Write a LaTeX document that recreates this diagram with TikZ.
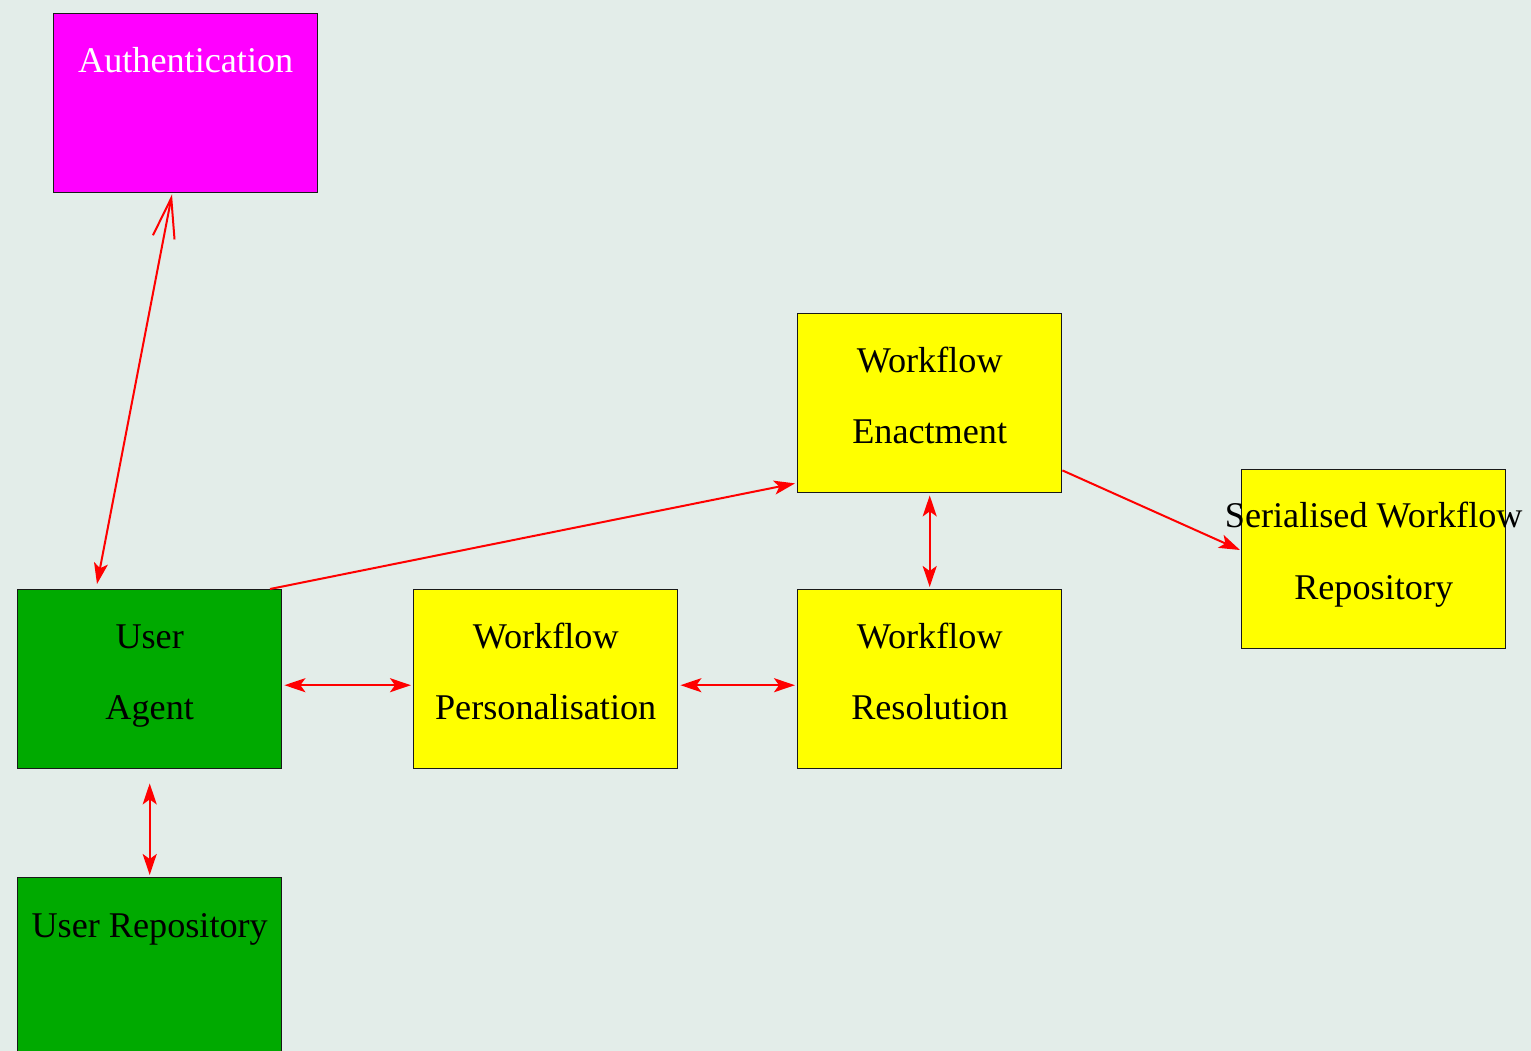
\documentclass[tikz,border=0pt]{standalone}
\usepackage{fontspec}
\setmainfont{Liberation Serif}
\usetikzlibrary{arrows.meta,calc}
\definecolor{bgcol}{RGB}{227,237,233}
\definecolor{magbox}{RGB}{255,0,255}
\definecolor{greenbox}{RGB}{0,170,0}
\definecolor{yellowbox}{RGB}{255,255,0}
\begin{document}
\begin{tikzpicture}[x=1pt,y=-1pt,
  box/.style={draw=black!90,line width=1.4pt,minimum width=264pt,minimum height=179pt,inner sep=0pt,anchor=north west},
  lbl/.style={anchor=base,inner sep=0pt,font=\fontsize{36.2}{43}\selectfont},
  conn/.style={draw=red,line width=2pt},
  hd/.tip={Stealth[length=21pt,width=14pt,inset=5pt]},
  barb/.tip={Straight Barb[length=40pt,width=22pt]}]
\useasboundingbox (0,0) rectangle (1531,1051);
\fill[bgcol] (0,0) rectangle (1531,1051);
\begin{scope}
\clip (0,0) rectangle (1531,1051);
\node[box,fill=magbox] (auth) at (53,13) {};
\node[box,fill=yellowbox] (wfe) at (797,313) {};
\node[box,fill=yellowbox] (swr) at (1241,469) {};
\node[box,fill=greenbox] (ua) at (17,589) {};
\node[box,fill=yellowbox] (wfp) at (413,589) {};
\node[box,fill=yellowbox] (wfr) at (797,589) {};
\node[box,fill=greenbox] (ur) at (17,877) {};
\end{scope}
% labels
\node[lbl,text=white] (authL) at ($(auth.north)+(0,60)$) {Authentication};
\node[lbl] (wfeL1) at ($(wfe.north)+(0,59)$) {Workflow};
\node[lbl] (wfeL2) at ($(wfe.north)+(0,130)$) {Enactment};
\node[lbl] (swrL1) at ($(swr.north)+(0,58)$) {Serialised Workflow};
\node[lbl] (swrL2) at ($(swr.north)+(0,130)$) {Repository};
\node[lbl] (uaL1) at ($(ua.north)+(0,59)$) {User};
\node[lbl] (uaL2) at ($(ua.north)+(0,130)$) {Agent};
\node[lbl] (wfpL1) at ($(wfp.north)+(0,59)$) {Workflow};
\node[lbl] (wfpL2) at ($(wfp.north)+(0,130)$) {Personalisation};
\node[lbl] (wfrL1) at ($(wfr.north)+(0,59)$) {Workflow};
\node[lbl] (wfrL2) at ($(wfr.north)+(0,130)$) {Resolution};
\node[lbl] (urL) at ($(ur.north)+(0,60)$) {User Repository};
% connectors
\draw[conn,{barb}-{hd}] ($(auth.south west)+(119,1)$) -- ($(ua.north west)+(80,-5)$);
\draw[conn,-{hd}] ($(ua.north west)+(253,0)$) -- ($(wfe.south west)+(-2,-10)$);
\draw[conn,-{hd}] ($(wfe.south east)+(0,-23)$) -- ($(swr.north west)+(-1,81)$);
\draw[conn,{hd}-{hd}] ($(wfe.south)+(0,2)$) -- ($(wfr.north)+(0,-2)$);
\draw[conn,{hd}-{hd}] ($(ua.east)+(2,6)$) -- ($(wfp.west)+(-2,6)$);
\draw[conn,{hd}-{hd}] ($(wfp.east)+(2,6)$) -- ($(wfr.west)+(-2,6)$);
\draw[conn,{hd}-{hd}] ($(ua.south)+(0,14)$) -- ($(ur.north)+(0,-2)$);
\end{tikzpicture}
\end{document}
